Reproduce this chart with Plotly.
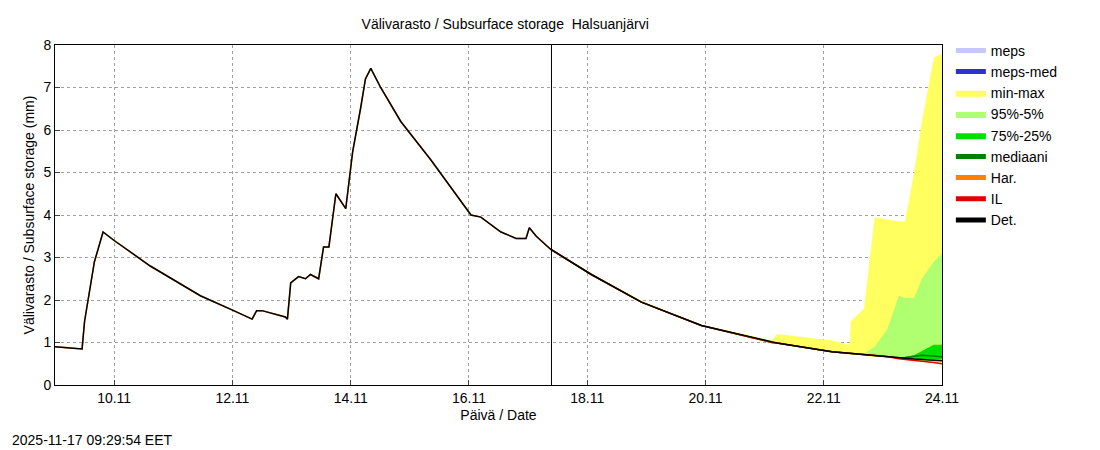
import plotly.graph_objects as go

# observed / deterministic history
obs_t = ["2025-11-09 00:00", "2025-11-09 11:00", "2025-11-09 12:00", "2025-11-09 16:00", "2025-11-09 19:30",
         "2025-11-10 00:00", "2025-11-10 14:40", "2025-11-11 11:00", "2025-11-12 00:30", "2025-11-12 08:00",
         "2025-11-12 09:50", "2025-11-12 12:00", "2025-11-12 21:30", "2025-11-12 22:20", "2025-11-12 23:40",
         "2025-11-13 02:50", "2025-11-13 05:40", "2025-11-13 07:40", "2025-11-13 11:00", "2025-11-13 13:00",
         "2025-11-13 15:10", "2025-11-13 18:00", "2025-11-13 22:00", "2025-11-14 00:50", "2025-11-14 04:00",
         "2025-11-14 06:00", "2025-11-14 08:10", "2025-11-14 12:10", "2025-11-14 20:20", "2025-11-15 08:30",
         "2025-11-16 00:50", "2025-11-16 04:50", "2025-11-16 13:00", "2025-11-16 19:10", "2025-11-16 23:10",
         "2025-11-17 00:30", "2025-11-17 03:20", "2025-11-17 09:00"]
obs_v = [0.9, 0.85, 1.5, 2.9, 3.6, 3.4, 2.8, 2.1, 1.75, 1.55, 1.75, 1.75, 1.6, 1.55, 2.4, 2.55, 2.5, 2.6, 2.5,
         3.25, 3.25, 4.5, 4.15, 5.5, 6.5, 7.2, 7.45, 7.0, 6.2, 5.3, 4.0, 3.95, 3.6, 3.45, 3.45, 3.7, 3.5, 3.2]

# forecast
fc_t = ["2025-11-17 09:00", "2025-11-18 01:40", "2025-11-18 22:00", "2025-11-19 22:20", "2025-11-21 03:00",
        "2025-11-21 05:00", "2025-11-22 03:20", "2025-11-22 10:30", "2025-11-22 11:00", "2025-11-22 16:20",
        "2025-11-22 20:40", "2025-11-23 01:40", "2025-11-23 06:30", "2025-11-23 09:00", "2025-11-23 12:40",
        "2025-11-23 15:50", "2025-11-23 20:40", "2025-11-24 00:00"]
det = [3.2, 2.6, 1.95, 1.4, 1.0, 0.99, 0.78, 0.74, 0.74, 0.72, 0.70, 0.67, 0.64, 0.62, 0.61, 0.60, 0.58, 0.57]
il = [3.2, 2.6, 1.95, 1.4, 1.0, 0.99, 0.78, 0.74, 0.74, 0.72, 0.70, 0.67, 0.62, 0.60, 0.58, 0.56, 0.53, 0.50]
median = [3.2, 2.6, 1.95, 1.4, 1.0, 0.99, 0.78, 0.74, 0.74, 0.72, 0.70, 0.67, 0.64, 0.65, 0.68, 0.70, 0.68, 0.66]
mm_hi = [3.22, 2.63, 1.98, 1.42, 1.05, 1.2, 1.05, 0.95, 1.5, 1.8, 3.95, 3.9, 3.85, 3.85, 5.0, 6.2, 7.7, 7.8]
mm_lo = [3.18, 2.58, 1.93, 1.38, 0.98, 0.97, 0.76, 0.72, 0.72, 0.70, 0.68, 0.65, 0.61, 0.59, 0.57, 0.55, 0.52, 0.49]
p95 = [3.21, 2.61, 1.96, 1.41, 1.01, 1.0, 0.8, 0.76, 0.76, 0.74, 0.9, 1.3, 2.1, 2.05, 2.05, 2.5, 2.9, 3.1]
p05 = [3.19, 2.59, 1.94, 1.39, 0.99, 0.98, 0.77, 0.73, 0.73, 0.71, 0.69, 0.66, 0.62, 0.61, 0.59, 0.58, 0.56, 0.55]
p75 = [3.2, 2.6, 1.95, 1.4, 1.0, 0.99, 0.78, 0.74, 0.74, 0.72, 0.70, 0.68, 0.65, 0.66, 0.70, 0.80, 0.95, 0.95]
p25 = [3.2, 2.6, 1.95, 1.4, 1.0, 0.99, 0.78, 0.74, 0.74, 0.72, 0.70, 0.67, 0.63, 0.62, 0.61, 0.61, 0.60, 0.60]

ticks = ["2025-11-10", "2025-11-12", "2025-11-14", "2025-11-16", "2025-11-18", "2025-11-20", "2025-11-22", "2025-11-24"]
tick_text = ["10.11", "12.11", "14.11", "16.11", "18.11", "20.11", "22.11", "24.11"]

fig = go.Figure()

fig.add_scatter(x=[fc_t[0]], y=[None], mode="lines", name="meps", line=dict(color="#c8c8f8", width=8))
fig.add_scatter(x=[fc_t[0]], y=[None], mode="lines", name="meps-med", line=dict(color="#3030d0", width=1.5))


def band(lo, hi, color, name):
    fig.add_scatter(x=fc_t, y=lo, mode="lines", line=dict(width=0), showlegend=False, hoverinfo="skip")
    fig.add_scatter(x=fc_t, y=hi, mode="lines", line=dict(width=0, color=color), fill="tonexty",
                    fillcolor=color, name=name)


band(mm_lo, mm_hi, "#ffff60", "min-max")
band(p05, p95, "#b0ff70", "95%-5%")
band(p25, p75, "#00e000", "75%-25%")

fig.add_scatter(x=fc_t, y=median, mode="lines", name="mediaani", line=dict(color="#008000", width=1.5))
fig.add_scatter(x=obs_t, y=obs_v, mode="lines", name="Har.", line=dict(color="#ff8000", width=1.5))
fig.add_scatter(x=fc_t, y=il, mode="lines", name="IL", line=dict(color="#e00000", width=1.5))
fig.add_scatter(x=obs_t + fc_t[1:], y=obs_v + det[1:], mode="lines", name="Det.",
                line=dict(color="black", width=1.5))

fig.add_shape(type="line", x0="2025-11-17 09:30", x1="2025-11-17 09:30", y0=0, y1=8,
              line=dict(color="black", width=1))

grid = dict(showgrid=True, gridcolor="#a0a0a0", griddash="dot", gridwidth=1, automargin=False,
            showline=True, linecolor="black", mirror=True, ticks="inside", zeroline=False)

fig.update_layout(
    width=1100, height=450,
    paper_bgcolor="white", plot_bgcolor="white",
    margin=dict(l=47, r=166, t=37, b=73),
    font=dict(family="Liberation Sans, Arial", size=14, color="black"),
    title=dict(text="Välivarasto / Subsurface storage  Halsuanjärvi", x=0.452, y=0.975, font=dict(size=14)),
    xaxis=dict(type="date", range=["2025-11-09 00:00", "2025-11-24 00:00"], tickvals=ticks, ticktext=tick_text,
               title=dict(text="Päivä / Date", standoff=5, font=dict(size=14)), **grid),
    yaxis=dict(range=[0, 8], dtick=1,
               title=dict(text="Välivarasto / Subsurface storage (mm)", standoff=5, font=dict(size=14)), **grid),
    legend=dict(x=1.01, y=1.03, xanchor="left", yanchor="top", font=dict(size=14), traceorder="normal",
                bgcolor="rgba(0,0,0,0)", tracegroupgap=0, itemsizing="constant"),
    showlegend=True,
)
fig.add_annotation(text="2025-11-17 09:29:54 EET", xref="paper", yref="paper", x=-0.051, y=-0.162,
                   xanchor="left", yanchor="middle", showarrow=False, font=dict(size=14))

fig.write_html("out.html")
